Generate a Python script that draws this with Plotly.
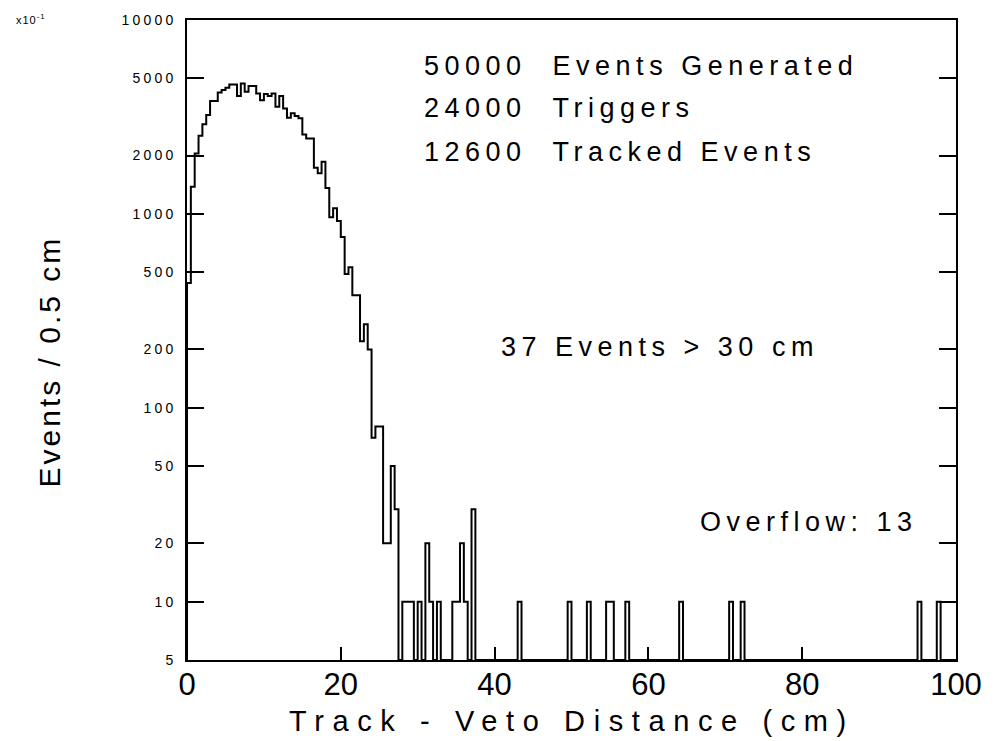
import numpy as np
import plotly.graph_objects as go

# ---------------- data (displayed units, x10^-1) ----------------
bin_width_cm = 0.5
n_bins = 200

# bins 0 .. 74  (0 - 37.5 cm)
main_values = [
    440, 1380, 2050, 2530, 2900, 3240, 3820, 3820, 4230, 4350,
    4470, 4650, 4650, 4050, 4700, 4260, 4560, 4560, 4180, 3860,
    4150, 4050, 4180, 3570, 4050, 3500, 3130, 3300, 3200, 3110,
    2570, 2450, 2450, 1730, 1620, 1860, 1360, 960, 1070, 920,
    760, 490, 530, 380, 380, 220, 270, 200, 70, 80,
    80, 20, 20, 50, 30, 0, 10, 10, 10, 0,
    10, 0, 20, 10, 0, 10, 0, 0, 0, 10,
    10, 20, 10, 0, 30,
]

# isolated single-event bins further out (lower bin edge in cm)
tail_bins_cm = [43.0, 49.5, 52.0, 54.5, 55.0, 57.0, 64.0, 70.5, 72.0, 95.0, 97.5]
tail_values = [10, 10, 10, 10, 10, 10, 10, 10, 10, 10, 10]

y_tick_vals = [5, 10, 20, 50, 100, 200, 500, 1000, 2000, 5000, 10000]
x_tick_vals = [0, 20, 40, 60, 80, 100]

info_lines = ["50000\u00a0\u00a0Events Generated", "24000\u00a0\u00a0Triggers",
              "12600\u00a0\u00a0Tracked Events"]
above_text = "37 Events > 30 cm"
overflow_text = "Overflow: 13"

# ---------------- build histogram ----------------
values = np.zeros(n_bins)
values[:len(main_values)] = main_values
for b, v in zip(tail_bins_cm, tail_values):
    values[int(round(b / bin_width_cm))] = v

edges = np.arange(n_bins + 1) * bin_width_cm
y_floor = y_tick_vals[0]
yv = np.where(values > 0, values, y_floor)

xs = [edges[0]] + list(edges[:-1]) + [edges[-1], edges[-1]]
ys = [y_floor] + list(yv) + [yv[-1], y_floor]

FONT = "Liberation Sans, Arial, sans-serif"


def spaced(t, ls):
    return '<span style="letter-spacing:%spx">%s</span>' % (ls, t)


fig = go.Figure()
fig.add_trace(go.Scatter(x=xs, y=ys, mode="lines",
                         line=dict(color="black", width=2, shape="hv"),
                         hoverinfo="skip", showlegend=False))

fig.update_layout(
    width=1000, height=741,
    margin=dict(l=187, r=44, t=18, b=81),
    paper_bgcolor="white", plot_bgcolor="white",
    font=dict(family=FONT, color="black"),
    showlegend=False,
)

fig.update_xaxes(
    range=[0, 100], tickvals=x_tick_vals,
    ticktext=[str(v) for v in x_tick_vals],
    ticks="inside", ticklen=13, tickwidth=1.5, tickcolor="black",
    showline=True, linewidth=1.5, linecolor="black", mirror=True,
    showgrid=False, zeroline=False,
    tickfont=dict(size=31, family=FONT, color="black"),
    ticklabelstandoff=-4,
)

fig.update_yaxes(
    type="log", range=[np.log10(y_floor), 4], tickvals=y_tick_vals,
    ticktext=[spaced(str(v), 3.2) for v in y_tick_vals],
    ticks="inside", ticklen=17, tickwidth=1.5, tickcolor="black",
    showline=True, linewidth=1.5, linecolor="black", mirror="ticks",
    showgrid=False, zeroline=False,
    tickfont=dict(size=14, family=FONT, color="black"),
    ticklabelstandoff=6,
)

ann = []
for i, t in enumerate(info_lines):
    ann.append(dict(text=spaced(t, 5.5), xref="paper", yref="paper",
                    x=(422 - 187) / 769, y=[0.928, 0.863, 0.794][i],
                    xanchor="left", yanchor="middle", showarrow=False,
                    font=dict(size=27, family=FONT, color="black")))
ann.append(dict(text=spaced(above_text, 5.5), xref="paper", yref="paper",
                x=(499 - 187) / 769, y=0.4895, xanchor="left", yanchor="middle",
                showarrow=False, font=dict(size=27, family=FONT, color="black")))
ann.append(dict(text=spaced(overflow_text, 5.5), xref="paper", yref="paper",
                x=(698 - 187) / 769, y=0.216, xanchor="left", yanchor="middle",
                showarrow=False, font=dict(size=27, family=FONT, color="black")))
ann.append(dict(text=spaced("Track - Veto Distance (cm)", 8.6), xref="paper", yref="paper",
                x=0.5, y=-0.095, xanchor="center", yanchor="middle",
                showarrow=False, font=dict(size=29, family=FONT, color="black")))
ann.append(dict(text=spaced("Events / 0.5 cm", 3), xref="paper", yref="paper",
                x=(49 - 187) / 769, y=0.4665, xanchor="center", yanchor="middle",
                textangle=-90, showarrow=False,
                font=dict(size=30, family=FONT, color="black")))
ann.append(dict(text=spaced("x10<sup>-1</sup>", 1), xref="paper", yref="paper",
                x=(14 - 187) / 769, y=1.0016, xanchor="left", yanchor="middle",
                showarrow=False, font=dict(size=11, family=FONT, color="black")))
fig.update_layout(annotations=ann)

fig.write_html("out.html")
